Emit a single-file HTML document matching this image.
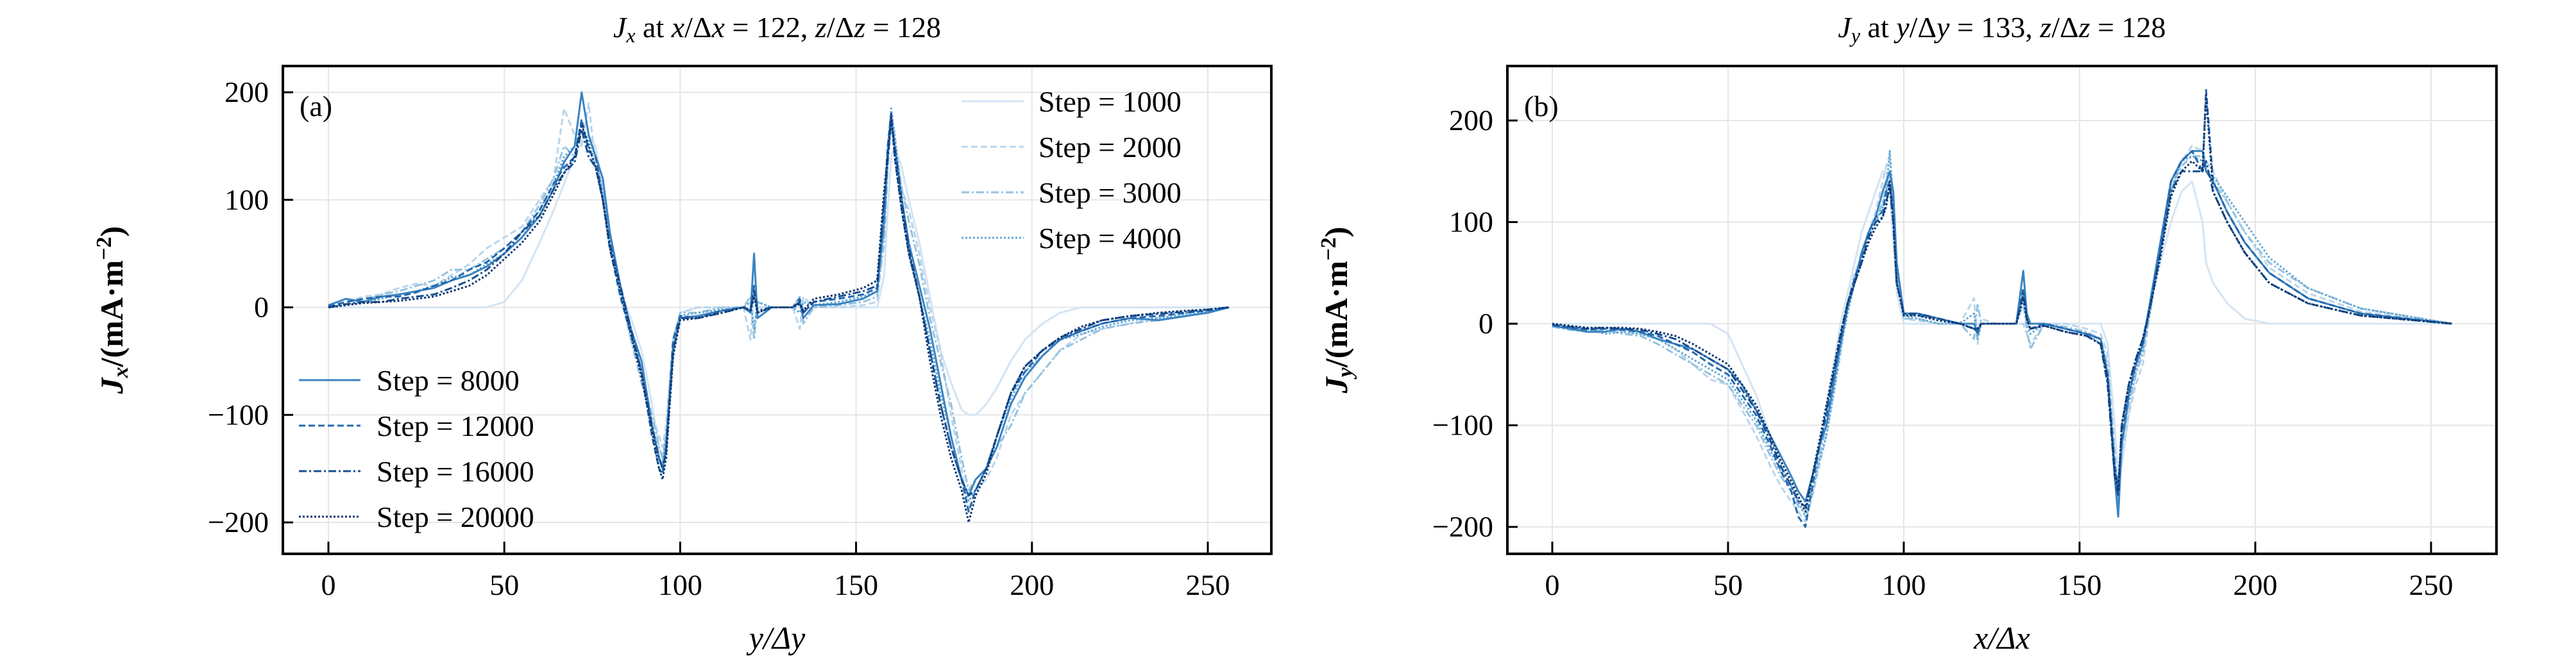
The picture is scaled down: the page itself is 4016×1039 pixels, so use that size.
<!DOCTYPE html>
<html><head><meta charset="utf-8"><style>
body{margin:0;background:#fff}
svg{display:block;font-family:"Liberation Serif","DejaVu Serif",serif}
</style></head><body>
<svg id="c" width="4016" height="1039" viewBox="0 0 4016 1039"></svg>
<script>
// ---------- Panel (a) data ----------
const xsA=[0,5,10,15,20,25,30,35,40,45,50,55,60,64,67,70,72,74,76,78,80,83,86,89,92,94,95,96,98,100,105,112,118,120,121,122,126,132,134,135,138,145,152,156,158,159,160,161,163,165,168,171,174,177,180,182,184,187,190,194,198,203,208,214,220,228,236,244,250,256];
const a1000=[0,0,0,0,0,0,0,0,0,0, 5,25,60,90,115,140,155,160,150,110, 60,15,-10,-40,-90,-130,-140,-120,-50,-5, 0,0,0,0,0,0,0,0,0,0, 0,0,0,0,30,90,140,150,130,100, 60,10,-40,-70,-95,-100,-100,-90,-75,-50, -30,-15,-5,0,0,0,0,0,0,0];
const a2000=[0,5,10,12,18,22,20,30,40,55, 65,75,100,120,185,160,150,190,130,100, 60,10,-30,-60,-100,-120,-130,-110,-30,-5, 0,0,0,-30,15,0,0,0,-20,10, 0,0,2,5,70,150,180,160,110,90, 50,0,-40,-100,-150,-190,-170,-160,-140,-100, -80,-60,-40,-25,-20,-15,-10,-8,-5,0];
const a3000=[0,3,6,12,15,20,25,35,35,45, 55,70,95,120,150,140,170,150,130,110, 70,20,-30,-70,-100,-130,-140,-120,-30,-5, -5,0,0,10,-30,5,0,0,10,-15, 0,2,5,10,60,130,170,150,110,80, 40,-10,-50,-90,-140,-170,-160,-150,-130,-110, -80,-60,-40,-30,-20,-15,-12,-8,-5,0];
const a4000=[0,2,5,8,12,15,20,28,30,40, 50,65,90,115,140,150,165,155,140,105, 60,15,-20,-60,-110,-140,-145,-120,-40,-8, -5,-2,0,5,-20,5,0,0,-5,5, 2,5,10,15,90,150,185,160,100,50, 10,-30,-80,-120,-160,-180,-170,-150,-120,-85, -60,-45,-30,-25,-18,-12,-10,-6,-4,0];
const a8000=[2,8,5,10,12,15,18,25,30,38, 50,65,85,110,135,150,200,160,140,120, 70,20,-20,-50,-110,-140,-150,-130,-40,-10, -8,-3,0,-5,50,-10,0,0,5,-10, 2,3,8,15,80,140,175,150,100,60, 20,-20,-70,-120,-160,-175,-160,-150,-130,-90, -65,-45,-30,-22,-15,-10,-12,-8,-5,0];
const a12000=[1,5,8,10,10,14,20,25,35,42, 55,70,90,115,130,140,175,145,140,100, 55,10,-25,-60,-120,-150,-155,-130,-30,-8, -10,-3,0,-3,20,-5,0,0,8,-5, 5,8,12,18,100,150,180,140,90,50, 10,-40,-90,-130,-160,-190,-170,-150,-120,-80, -60,-40,-30,-22,-15,-10,-8,-5,-3,0];
const a16000=[0,3,5,5,8,10,12,18,25,35, 50,70,85,110,125,135,165,140,130,100, 60,20,-20,-60,-110,-140,-150,-135,-40,-10, -10,-5,0,-3,15,-3,0,0,5,-5, 5,10,15,20,100,140,175,150,100,55, 10,-40,-90,-130,-160,-175,-170,-150,-120,-80, -55,-40,-28,-20,-12,-8,-6,-4,-2,0];
const a20000=[0,2,4,5,6,8,10,15,20,30, 45,60,80,105,125,140,170,150,130,100, 55,15,-25,-65,-115,-150,-160,-140,-45,-12, -10,-5,0,-3,10,-5,0,0,3,-3, 8,12,18,25,110,140,180,140,90,50, 10,-50,-100,-140,-170,-200,-175,-155,-120,-80, -55,-40,-28,-18,-12,-8,-5,-3,-2,0];
// ---------- Panel (b) data ----------
const xsB=[0,5,10,15,20,25,30,35,40,45,50,54,58,62,65,68,70,72,74,76,78,80,82,84,86,88,90,92,94,95,96,97,98,100,104,110,116,120,121,122,126,132,134,135,136,140,146,152,156,158,160,161,162,164,166,168,170,173,176,179,182,185,186,188,192,197,204,215,230,256];
const b1000=[0,0,0,0,0,0,0,0,0,0, -10,-40,-70,-110,-140,-160,-175,-180,-170,-130, -80,-40,0,30,60,90,110,130,150,150, 130,80,30,0,0,0,0,0,0,0, 0,0,0,0,0,0,0,0,0,-20, -100,-150,-140,-90,-50,-20,20,60,100,130, 140,100,60,40,20,5,0,0,0,0];
const b2000=[-2,-3,-5,-5,-8,-10,-15,-25,-40,-55, -60,-85,-110,-140,-160,-175,-185,-195,-170,-140, -110,-70,-30,20,50,65,90,110,140,155, 165,120,60,5,3,0,0,25,-20,5, 0,0,0,-10,-20,0,0,-5,-10,-30, -120,-170,-130,-90,-60,-40,10,70,130,160, 175,170,160,150,120,90,55,30,12,0];
const b3000=[-3,-6,-8,-6,-10,-12,-20,-30,-40,-50, -60,-80,-100,-130,-150,-165,-180,-185,-160,-130, -100,-60,-20,15,45,65,85,100,120,135, 150,110,50,5,5,0,0,-15,20,0, 0,0,20,-5,-25,0,-3,-8,-15,-40, -130,-180,-120,-80,-50,-30,15,75,135,155, 165,165,150,140,120,90,60,35,15,0];
const b4000=[-2,-5,-5,-10,-8,-10,-15,-25,-35,-45, -55,-75,-95,-125,-145,-160,-175,-190,-165,-135, -110,-70,-25,10,40,60,85,100,115,130, 170,120,50,8,5,0,0,10,-15,0, 0,0,30,0,-10,0,-5,-10,-20,-50, -140,-180,-120,-75,-45,-25,10,70,130,160, 165,160,150,145,125,100,65,35,15,0];
const b8000=[-2,-5,-8,-8,-5,-8,-15,-20,-25,-35, -45,-60,-85,-110,-130,-150,-165,-175,-150,-120, -100,-60,-20,15,40,70,90,105,130,140, 150,130,60,10,10,5,0,0,-10,0, 0,0,52,10,0,0,-5,-10,-15,-50, -150,-190,-120,-70,-40,-20,20,80,140,160, 170,170,150,140,110,80,50,25,10,0];
const b12000=[-1,-4,-6,-5,-6,-8,-12,-20,-28,-40, -50,-70,-90,-120,-145,-165,-190,-200,-160,-120, -90,-50,-10,20,45,65,90,105,110,130, 140,110,40,10,8,5,0,-5,-8,0, 0,0,35,5,-5,0,-5,-10,-15,-50, -140,-160,-110,-70,-40,-20,15,75,140,160, 170,150,230,140,110,80,50,25,10,0];
const b16000=[-1,-3,-5,-4,-5,-6,-10,-15,-25,-35, -45,-65,-85,-115,-140,-160,-175,-180,-150,-120, -85,-50,-15,20,40,60,85,100,105,120, 135,100,40,10,10,5,0,-5,-5,0, 0,0,30,5,-5,-2,-8,-12,-20,-60, -150,-170,-100,-60,-35,-15,15,70,130,150, 150,150,160,130,100,70,40,20,8,0];
const b20000=[0,-2,-4,-4,-4,-5,-8,-12,-20,-30, -40,-60,-80,-110,-135,-155,-170,-185,-150,-115, -80,-45,-10,20,40,60,80,95,105,115, 140,100,40,8,8,3,0,-5,-5,0, 0,0,25,5,-5,-2,-8,-12,-20,-55, -145,-165,-100,-60,-35,-15,15,65,125,150, 160,150,225,130,100,70,40,20,8,0];
const stepLabels=["1000","2000","3000","4000","8000","12000","16000","20000"];
const xTicks=[0,50,100,150,200,250];
const yTicks=[-200,-100,0,100,200];

const NS="http://www.w3.org/2000/svg";
const svg=document.getElementById("c");
function mk(tag,attrs,parent){const e=document.createElementNS(NS,tag);for(const k in attrs)e.setAttribute(k,attrs[k]);(parent||svg).appendChild(e);return e;}
const colors=["#d4e4f3","#b9d5eb","#94c2df","#62a8d3","#3b84c1","#2468ad","#174f90","#0b3470"];
const dashes=["none","10,5","12,4,3,4","3,3","none","10,5","12,4,3,4","3,3"];

function panel(id,box,sx,sy,series,xs,title,xlab,ylab,tag,legendFn){
  const g=mk("g",{});
  
  
  xTicks.forEach(v=>{const l=mk("line",{x1:sx(v),x2:sx(v),y1:box.t,y2:box.b,stroke:"#e6e6e6","stroke-width":2},g);
    
    });
  yTicks.forEach(v=>{const l=mk("line",{x1:box.l,x2:box.r,y1:sy(v),y2:sy(v),stroke:"#e6e6e6","stroke-width":2},g);
    
    });
  series.forEach((ys,i)=>{
    let d="";ys.forEach((v,j)=>{d+=(j?"L":"M")+sx(xs[j]).toFixed(1)+","+sy(v).toFixed(1);});
    const p=mk("path",{d:d,fill:"none",stroke:colors[i],"stroke-width":3,"stroke-dasharray":dashes[i],"stroke-linejoin":"round"},g);
    
    
  });
  const f=mk("rect",{x:box.l,y:box.t,width:box.r-box.l,height:box.b-box.t,fill:"none",stroke:"#000","stroke-width":4},g);
  
  
  xTicks.forEach(v=>{
    const t=mk("line",{x1:sx(v),x2:sx(v),y1:box.b,y2:box.b-19,stroke:"#000","stroke-width":3},g);
    
    
    const tx=mk("text",{x:sx(v),y:box.b+64,"font-size":46,"text-anchor":"middle"},g);tx.textContent=v;
    
    
  });
  yTicks.forEach(v=>{
    const t=mk("line",{x1:box.l,x2:box.l+16,y1:sy(v),y2:sy(v),stroke:"#000","stroke-width":3},g);
    
    
    const tx=mk("text",{x:box.l-22,y:sy(v)+15,"font-size":46,"text-anchor":"end"},g);tx.textContent=(v<0?"\u2212"+(-v):v);
    
    
  });
  const tt=mk("text",{x:(box.l+box.r)/2,y:58,"font-size":46,"text-anchor":"middle"},g);tt.innerHTML=title;
  
  
  const xl=mk("text",{x:(box.l+box.r)/2,y:1012,"font-size":50,"text-anchor":"middle","font-style":"italic"},g);xl.innerHTML=xlab;
  
  
  const yx=box.l-250, yy=(box.t+box.b)/2;
  const yl=mk("text",{x:yx,y:yy,"font-size":50,"font-weight":"bold","text-anchor":"middle",transform:`rotate(-90 ${yx} ${yy})`},g);yl.innerHTML=ylab;
  
  
  const pl=mk("text",{x:box.l+26,y:box.t+78,"font-size":46},g);pl.textContent=tag;
  
  
  legendFn(g);
}
function legendEntry(g,i,x1,x2,tx,y){
  const le=mk("g",{},g);
  
  
  mk("line",{x1:x1,x2:x2,y1:y,y2:y,stroke:colors[i],"stroke-width":3,"stroke-dasharray":dashes[i]},le);
  const t=mk("text",{x:tx,y:y+16,"font-size":46},le);t.textContent="Step = "+stepLabels[i];
}
const boxA={l:441,r:1982,t:103,b:864};
const sxA=v=>512+(1883-512)*v/250, syA=v=>479.5-(479.5-144)*v/200;
panel("panel-a",boxA,sxA,syA,[a1000,a2000,a3000,a4000,a8000,a12000,a16000,a20000],xsA,
 '<tspan font-style="italic">J</tspan><tspan font-style="italic" font-size="32" dy="8">x</tspan><tspan dy="-8"> at </tspan><tspan font-style="italic">x</tspan>/Δ<tspan font-style="italic">x</tspan> = 122, <tspan font-style="italic">z</tspan>/Δ<tspan font-style="italic">z</tspan> = 128',
 'y/Δy','<tspan font-style="italic">J</tspan><tspan font-style="italic" font-size="34" dy="8">x</tspan><tspan dy="-8">/(mA·m</tspan><tspan font-size="34" dy="-18">−2</tspan><tspan dy="18">)</tspan>','(a)',
 g=>{[0,1,2,3].forEach(i=>legendEntry(g,i,1499,1596,1619,158+i*71));
     [4,5,6,7].forEach(i=>legendEntry(g,i,466,562,587,593+(i-4)*71));});
const boxB={l:2350,r:3892,t:103,b:864};
const sxB=v=>2420+(3790-2420)*v/250, syB=v=>505-(505-188)*v/200;
panel("panel-b",boxB,sxB,syB,[b1000,b2000,b3000,b4000,b8000,b12000,b16000,b20000],xsB,
 '<tspan font-style="italic">J</tspan><tspan font-style="italic" font-size="32" dy="8">y</tspan><tspan dy="-8"> at </tspan><tspan font-style="italic">y</tspan>/Δ<tspan font-style="italic">y</tspan> = 133, <tspan font-style="italic">z</tspan>/Δ<tspan font-style="italic">z</tspan> = 128',
 'x/Δx','<tspan font-style="italic">J</tspan><tspan font-style="italic" font-size="34" dy="8">y</tspan><tspan dy="-8">/(mA·m</tspan><tspan font-size="34" dy="-18">−2</tspan><tspan dy="18">)</tspan>','(b)',
 g=>{});
</script>
</body></html>
